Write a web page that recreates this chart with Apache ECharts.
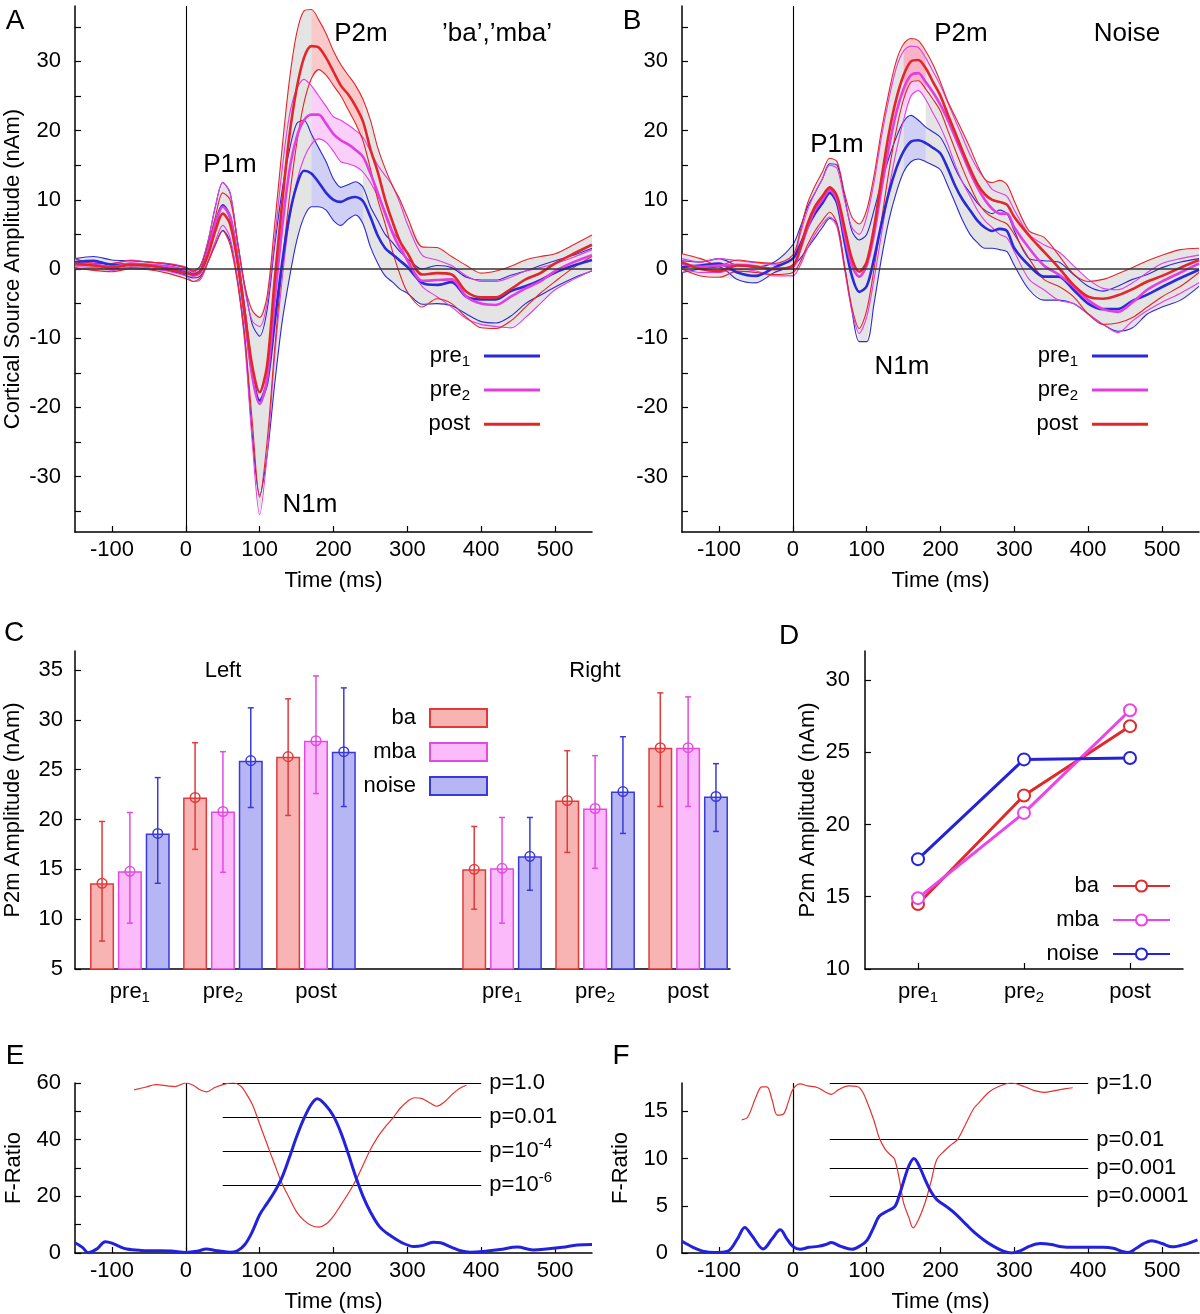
<!DOCTYPE html>
<html><head><meta charset="utf-8">
<script src="https://cdn.jsdelivr.net/npm/echarts@6/dist/echarts.min.js"></script>
<style>html,body{margin:0;padding:0;background:#fff}#c{width:1200px;height:1314px}</style>
</head><body><div id="c"></div>
<script>
// ---------------- DATA ----------------
const T = [-150,-125,-100,-75,-50,-25,0,10,20,30,40,50,60,70,80,90,100,110,120,130,140,150,160,170,180,190,200,210,220,230,240,250,260,270,280,290,300,320,340,360,380,400,420,440,460,480,500,525,550];
const TIME_LABELS = [-100,0,100,200,300,400,500];

// Panel A ('ba','mba')
const A_pre1    = [1.0,1.2,0.6,0.7,0.5,0.3,-0.3, -0.8,-0.2,2.5,6.5,9.2,7.5,1.5,-6.5,-15.0,-19.0, -16.5,-8.0,0.5,7.5,12.0,14.2,13.8,12.5,11.0,10.0, 9.7,10.2,10.4,9.8,7.5,4.8,3.0,2.1,1.2,0.3, -2.0,-2.3,-1.9,-4.0,-4.4,-4.4,-3.2,-2.5,-1.6,-0.5, 0.5,1.3];
const A_pre1_hi = [1.5,1.8,1.3,1.2,1.0,0.7,0.2, -0.3,0.5,4.0,9.0,12.5,11.0,4.0,-2.5,-8.0,-9.7, -6.0,3.0,11.0,17.0,21.0,21.5,19.5,17.5,15.5,13.0, 11.8,12.2,12.6,11.8,9.0,7.0,5.0,3.8,2.5,1.5, 0.0,0.5,0.2,-1.2,-1.6,-1.6,-0.9,-0.3,0.5,1.2, 2.0,3.0];
const A_pre1_lo = [0.5,0.5,0.0,0.2,0.0,-0.2,-0.9, -1.3,-1.0,1.0,3.5,5.6,4.0,-1.5,-10.0,-24.0,-32.7, -27.0,-17.0,-8.0,-1.5,4.0,7.5,9.0,9.0,8.5,7.0, 6.3,7.2,7.8,6.5,3.2,0.8,-1.0,-1.9,-2.9,-3.5, -5.1,-5.0,-5.3,-6.5,-7.6,-7.8,-6.8,-5.0,-3.8,-2.6, -1.3,-0.3];
const A_pre2    = [0.5,0.6,0.3,0.8,0.6,0.4,-0.2, -1.0,-0.5,2.5,6.5,9.0,7.5,1.5,-7.0,-15.5,-19.5, -16.0,-5.0,5.5,14.0,19.0,21.5,22.3,22.3,21.0,19.5, 18.6,18.0,17.2,16.2,13.8,11.0,8.0,5.2,3.0,1.3, -1.7,-1.6,-1.5,-4.0,-5.0,-5.2,-4.0,-2.8,-1.8,-0.3, 1.0,2.0];
const A_pre2_hi = [1.0,1.0,0.8,1.3,1.0,0.8,0.3, -0.5,0.5,4.0,9.0,12.5,11.0,4.0,-3.0,-7.5,-8.3, -5.0,4.0,14.0,22.0,26.0,27.4,26.5,25.0,23.5,22.0, 21.5,20.8,20.0,19.0,17.0,15.0,13.5,12.0,9.5,6.5, 2.0,1.3,0.5,-1.0,-1.8,-1.8,-1.2,-0.3,0.2,0.8, 1.7,2.8];
const A_pre2_lo = [0.0,0.2,-0.2,0.3,0.2,-0.3,-1.0, -1.8,-1.5,1.0,4.0,6.3,4.5,-1.5,-11.0,-25.0,-35.5, -27.0,-13.0,-2.0,7.0,12.5,16.0,18.0,18.8,18.3,17.0, 15.5,15.2,14.8,14.0,12.5,10.5,8.3,5.5,3.9,1.0, -2.5,-4.0,-5.5,-7.2,-8.0,-8.3,-8.5,-7.0,-5.0,-3.0, -1.5,-0.2];
const A_post    = [0.8,0.5,0.2,0.6,0.5,0.0,-0.6, -0.8,-0.3,2.0,5.5,8.0,6.5,1.0,-6.5,-14.0,-17.8, -14.0,-2.0,9.0,19.0,26.0,30.5,32.2,32.0,30.5,28.5, 26.5,25.2,23.5,21.3,17.3,14.0,10.0,6.8,4.0,2.3, -0.8,-0.6,-0.8,-3.3,-4.1,-4.1,-2.9,-1.5,-0.6,0.8, 2.2,3.5];
const A_post_hi = [1.5,0.8,0.8,1.2,1.0,0.8,0.2, -0.3,0.5,3.5,7.5,11.0,10.0,4.0,-2.5,-6.0,-7.0, -4.0,6.0,17.0,27.0,34.0,37.3,37.5,36.0,34.0,31.5, 29.5,28.0,26.5,24.5,21.5,17.5,14.5,12.0,10.0,7.5, 3.2,3.1,1.8,0.5,-0.6,-0.3,0.4,1.3,1.8,2.2, 3.5,4.9];
const A_post_lo = [0.2,-0.2,-0.4,0.0,-0.1,-0.6,-1.4, -1.8,-1.2,1.0,3.5,5.5,3.5,-2.0,-10.0,-22.0,-33.0, -25.0,-12.0,0.0,10.0,18.0,24.0,27.5,28.8,28.0,26.5, 25.0,23.0,21.0,18.5,14.5,10.0,6.5,2.5,-0.8,-3.3, -5.5,-4.3,-5.0,-7.0,-8.5,-8.6,-7.5,-5.5,-3.5,-1.8, 0.2,1.8];
const A_window = [170, 240];

// Panel B (Noise)
const B_pre1    = [0.3,0.5,0.8,-0.5,-1.0,0.2,1.5, 3.5,6.0,8.0,9.5,11.0,9.5,4.0,-1.0,-3.3,-2.5, 1.5,6.5,11.0,14.5,17.0,18.4,18.6,18.2,17.5,16.7, 14.5,12.0,10.0,8.5,7.0,6.0,5.5,5.8,5.5,3.0, 0.5,-1.1,-1.1,-3.0,-5.0,-5.8,-5.8,-4.6,-3.7,-2.6, -1.3,-0.1];
const B_pre1_hi = [1.2,1.0,1.5,0.5,0.3,1.0,3.5, 6.0,9.0,11.0,13.0,15.2,15.0,10.5,5.5,4.2,5.0, 8.5,12.5,16.0,19.0,21.3,22.2,21.5,20.5,19.8,19.0, 17.0,14.5,12.5,11.0,9.5,8.5,8.0,8.5,8.0,5.5, 1.5,1.2,1.0,-0.8,-2.5,-3.2,-2.5,-1.5,-0.8,0.2, 1.0,1.5];
const B_pre1_lo = [-0.5,0.0,0.3,-1.5,-2.0,-0.5,0.5, 1.5,3.0,4.5,6.0,7.3,6.5,0.5,-6.0,-10.5,-10.5, -5.0,1.5,7.0,11.0,14.0,15.5,15.9,15.5,15.0,14.3, 12.0,9.5,7.0,5.0,3.8,3.0,3.0,2.8,2.5,0.5, -3.0,-4.5,-4.5,-5.0,-6.5,-8.0,-9.0,-8.5,-6.5,-5.5, -4.5,-2.5];
const B_pre2    = [0.8,0.3,0.5,0.6,0.4,0.0,0.3, 2.8,6.0,8.5,10.0,11.4,10.0,5.0,0.5,-1.1,0.5, 5.0,11.5,17.5,22.5,26.0,28.0,28.3,27.0,25.5,23.7, 21.5,19.0,16.5,14.0,11.8,10.0,8.7,8.0,8.0,6.0, 3.0,0.5,-0.8,-2.5,-4.5,-5.8,-6.2,-4.8,-3.0,-1.8, -0.5,0.8];
const B_pre2_hi = [1.5,1.0,1.5,1.2,0.9,0.6,1.5, 5.0,8.5,11.0,13.0,15.0,14.5,10.0,6.0,5.0,7.5, 12.5,19.0,24.5,29.0,31.5,32.2,32.0,30.5,28.5,26.5, 24.0,21.5,19.0,16.5,14.5,13.0,11.5,11.0,10.5,8.5, 5.0,3.5,2.5,0.5,-1.5,-2.8,-3.0,-2.0,-0.5,0.8, 1.5,2.0];
const B_pre2_lo = [0.0,-0.5,-0.5,0.0,-0.3,-1.0,-1.0, 0.5,3.0,5.0,6.5,7.5,6.0,0.0,-6.0,-9.3,-7.0, -1.5,5.0,11.5,17.0,21.5,25.0,25.8,24.5,22.5,20.5, 18.0,15.0,12.5,10.5,8.5,7.0,6.0,5.0,4.5,2.5, -1.5,-3.0,-4.5,-5.0,-6.5,-8.0,-9.2,-7.5,-6.0,-4.8, -3.5,-2.0];
const B_post    = [1.0,0.0,-0.3,0.5,0.3,0.0,0.5, 3.0,6.5,9.0,10.5,11.8,10.5,6.0,1.5,-0.4,1.0, 6.0,13.0,19.5,24.5,28.0,30.0,30.2,29.0,27.0,25.0, 22.3,19.7,17.0,14.5,12.3,10.8,10.0,9.7,9.3,7.5, 4.8,2.5,0.2,-2.3,-4.0,-4.3,-3.8,-2.9,-1.8,-1.0, 0.2,1.3];
const B_post_hi = [2.2,1.5,0.5,1.3,1.0,0.8,2.0, 5.5,9.5,12.0,14.0,16.0,15.5,11.0,7.5,6.5,8.5, 13.5,20.0,25.5,30.0,32.5,33.3,33.0,31.5,29.5,27.0, 24.2,22.0,19.8,17.5,15.0,13.0,12.5,12.8,12.2,9.8, 5.5,4.6,2.0,-0.7,-1.8,-1.5,-0.7,0.2,1.2,2.0, 2.8,3.0];
const B_post_lo = [0.0,-1.0,-1.2,-0.3,-0.5,-0.8,-0.5, 1.0,3.5,5.5,7.0,8.2,6.5,0.5,-5.5,-8.6,-6.0, 0.0,7.0,14.0,20.0,24.5,27.0,27.2,26.0,24.5,22.8, 20.0,17.2,14.5,12.0,9.8,8.3,7.5,7.0,6.5,5.0, 1.5,-1.5,-2.5,-4.0,-6.5,-8.0,-7.8,-7.0,-5.5,-4.0, -2.5,-0.5];
const B_window = [150, 180];

// Panel C (bars, Left / Right hemispheres)
const C_cats     = ['pre1','pre2','post','','pre1','pre2','post'];
const C_ba       = [13.6,22.2,26.3,null,15.0,21.9,27.2];
const C_ba_hi    = [19.8,27.7,32.1,null,19.3,26.9,32.7];
const C_ba_lo    = [7.8,17.0,20.4,null,11.0,16.7,21.3];
const C_mba      = [14.8,20.8,27.9,null,15.1,21.1,27.2];
const C_mba_hi   = [20.7,26.8,34.4,null,20.2,26.4,32.3];
const C_mba_lo   = [9.6,14.7,22.6,null,9.6,15.1,21.3];
const C_noise    = [18.6,25.9,26.8,null,16.3,22.8,22.3];
const C_noise_hi = [24.2,31.2,33.2,null,20.2,28.3,25.6];
const C_noise_lo = [13.6,21.2,21.3,null,12.9,18.6,18.8];
const C_yLabels  = [5,10,15,20,25,30,35];

// Panel D
const D_cats  = ['pre1','pre2','post'];
const D_ba    = [14.5,22.0,26.8];
const D_mba   = [14.9,20.8,27.9];
const D_noise = [17.6,24.5,24.6];
const D_yLabels = [10,15,20,25,30];

// Panel E
const E_red_t  = [-70,-55,-40,-25,-15,0,10,20,28,40,55,65,75,80,90,100,110,120,130,140,150,160,170,180,190,200,210,220,230,240,250,260,270,280,290,300,310,320,330,340,350,360,370,380];
const E_red_v  = [57.6,58.5,59.4,59.0,58.7,60.0,59.2,57.5,56.9,58.5,59.8,60.0,58.8,57.0,52.5,45.5,38.5,31.5,24.7,19.5,14.5,11.5,9.7,9.1,10.2,13.0,17.0,21.0,25.5,31.0,36.5,41.0,44.5,47.5,51.0,53.5,54.8,54.5,53.0,51.8,53.3,55.8,58.0,59.2];
const E_blue_t = [-150,-140,-132,-120,-109,-100,-90,-80,-60,-44,-20,0,15,28,40,59,70,80,90,100,110,120,130,140,150,160,170,178,190,200,210,220,230,240,250,262,275,293,309,320,335,345,360,372,385,402,425,449,470,485,510,530,550];
const E_blue_v = [3.6,2.0,0.1,1.5,4.0,3.5,2.3,1.4,0.9,0.8,0.7,0.2,0.6,1.4,0.9,0.3,0.8,3.0,7.5,13.5,17.5,21.5,26.5,33.5,41.0,47.5,52.5,54.4,52.0,48.3,42.5,35.0,27.0,20.0,14.5,9.4,6.5,3.6,2.3,2.6,3.8,3.6,2.0,0.8,0.3,0.5,1.2,2.1,1.1,1.3,2.0,2.8,3.0];
const E_pLevels = [60,48,36,24];
const E_pLabels = ['p=1.0','p=0.01','p=10^-4','p=10^-6'];
const E_pRange  = [50,400];
const E_yLabels = [0,20,40,60];
const E_yTicks  = [0,10,20,30,40,50,60];

// Panel F
const F_red_t  = [-69,-61,-50,-42,-35,-28,-21,-13,-6,0,10,20,34,45,52,62,75,88,95,101,110,117,125,132,138,145,150,157,163,170,179,187,195,205,215,223,235,245,252,265,278,296,314,327,340,355,370,379];
const F_red_v  = [14.1,14.4,16.5,17.6,17.6,16.2,14.6,14.7,16.0,17.3,17.9,17.7,17.5,17.0,16.8,17.3,17.7,17.6,17.0,15.9,14.0,12.2,11.0,10.4,9.9,7.5,5.3,3.8,2.65,3.5,5.3,7.5,9.9,10.8,11.5,12.0,13.8,15.3,15.9,17.0,17.6,18.0,17.6,17.2,17.0,17.2,17.4,17.5];
const F_blue_t = [-150,-135,-122,-105,-88,-75,-65,-55,-40,-28,-17,-8,0,10,22,34,45,52,65,80,92,101,110,117,127,138,145,151,157,164,170,179,187,195,210,221,235,247,260,272,285,296,310,320,335,350,361,380,403,420,434,445,454,465,475,486,500,514,530,548];
const F_blue_v = [1.24,0.6,0.2,0.05,0.2,1.5,2.7,1.8,0.43,1.5,2.45,1.5,0.7,0.4,0.6,0.7,0.9,1.1,0.7,0.4,0.8,1.4,2.8,3.9,4.4,4.9,6.3,7.8,9.2,10.0,9.4,7.8,6.5,5.65,4.8,4.1,3.0,2.1,1.3,0.7,0.2,0.0,0.3,0.7,1.0,0.9,0.7,0.6,0.6,0.6,0.5,0.2,0.05,0.5,1.0,1.3,1.0,0.65,0.9,1.4];
const F_pLevels = [18,12,9,6];
const F_pLabels = ['p=1.0','p=0.01','p=0.001','p=0.0001'];
const F_pRange  = [50,400];
const F_yLabels = [0,5,10,15];

const AB_yLabels = [-30,-20,-10,0,10,20,30];
const AB_yTicks  = [-35,-30,-25,-20,-15,-10,-5,0,5,10,15,20,25,30,35];

// ---------------- STYLE ----------------
const FONT = "'Liberation Sans', Arial, Helvetica, sans-serif";
const RED = '#e3262b', MAG = '#e23ee2', BLUE = '#2a2ad8';
const FS = 22;

function subFmt(s) {
  const m = /^(pre)(\d)$/.exec(s);
  return m ? '{t|' + m[1] + '}{s|' + m[2] + '}' : '{t|' + s + '}';
}
function supFmt(s) {
  const m = /^(.*)\^(.*)$/.exec(s);
  return m ? '{t|' + m[1] + '}{u|' + m[2] + '}' : '{t|' + s + '}';
}
const subRich = {
  t: {fontSize: FS, lineHeight: 26, fontFamily: FONT, color: '#000'},
  s: {fontSize: 15, lineHeight: 12, verticalAlign: 'bottom', fontFamily: FONT, color: '#000'}
};
const supRich = {
  t: {fontSize: FS, lineHeight: 30, fontFamily: FONT, color: '#000'},
  u: {fontSize: 15, lineHeight: 12, verticalAlign: 'top', fontFamily: FONT, color: '#000'}
};

function axisBase(gi, o) {
  return Object.assign({
    gridIndex: gi,
    axisLine: {show: true, onZero: false, lineStyle: {color: '#000', width: 1.5}},
    splitLine: {show: false},
    nameTextStyle: {color: '#000', fontSize: FS, fontFamily: FONT},
    nameLocation: 'middle'
  }, o);
}
function timeAxis(gi, name) {
  return axisBase(gi, {
    type: 'value', min: -150, max: 550, name: name || '', nameGap: 38,
    axisTick: {show: true, inside: true, length: 6, customValues: TIME_LABELS, lineStyle: {color: '#000', width: 1.2}},
    axisLabel: {show: true, customValues: TIME_LABELS, color: '#000', fontSize: FS, fontFamily: FONT, margin: 7}
  });
}
function yValAxis(gi, min, max, labels, ticks, name, gap, margin) {
  return axisBase(gi, {
    type: 'value', min: min, max: max, name: name || '', nameGap: gap || 51, nameRotate: 90,
    axisTick: {show: true, inside: true, length: 6, customValues: ticks, lineStyle: {color: '#000', width: 1.2}},
    axisLabel: {show: true, customValues: labels, color: '#000', fontSize: FS, fontFamily: FONT, margin: margin || 14}
  });
}

function pts(ts, vs) { return ts.map((t, i) => [t, vs[i]]); }
function lineS(gi, name, vs, color, width, z) {
  return {type: 'line', name: name, xAxisIndex: gi, yAxisIndex: gi, data: pts(T, vs), showSymbol: false, symbol: 'none',
    smooth: 0.3, lineStyle: {color: color, width: width}, itemStyle: {color: color}, z: z, silent: true, animation: false};
}

function bandSeries(gi, conds, win, fills) {
  return {
    type: 'custom', xAxisIndex: gi, yAxisIndex: gi, silent: true, z: 1, animation: false,
    data: [[0, 0]],
    markLine: {
      silent: true, symbol: ['none', 'none'], label: {show: false}, animation: false, z: 5,
      data: [
        {yAxis: 0, lineStyle: {color: '#333', width: 1.6, type: 'solid'}},
        {xAxis: 0, lineStyle: {color: '#000', width: 1.1, type: 'solid'}}
      ]
    },
    renderItem: function (params, api) {
      const children = [];
      const idx = T.map((t, i) => i);
      const env = (ids) => {
        const up = ids.map(i => api.coord([T[i], Math.max.apply(null, conds.map(c => c.hi[i]))]));
        const dn = ids.map(i => api.coord([T[i], Math.min.apply(null, conds.map(c => c.lo[i]))])).reverse();
        return up.concat(dn);
      };
      const left = idx.filter(i => T[i] <= win[0]);
      const right = idx.filter(i => T[i] >= win[1]);
      const mid = idx.filter(i => T[i] >= win[0] && T[i] <= win[1]);
      children.push({type: 'polygon', shape: {points: env(left)}, style: {fill: '#e4e4e4'}});
      children.push({type: 'polygon', shape: {points: env(right)}, style: {fill: '#e4e4e4'}});
      conds.forEach((c, k) => {
        const up = mid.map(i => api.coord([T[i], c.hi[i]]));
        const dn = mid.map(i => api.coord([T[i], c.lo[i]])).reverse();
        children.push({type: 'polygon', shape: {points: up.concat(dn)}, style: {fill: fills[k]}});
      });
      return {type: 'group', children: children};
    }
  };
}

function erpPanel(gi, P, win) {
  const conds = [
    {hi: P.pre1_hi, lo: P.pre1_lo, m: P.pre1, c: BLUE, n: 'pre1'},
    {hi: P.pre2_hi, lo: P.pre2_lo, m: P.pre2, c: MAG, n: 'pre2'},
    {hi: P.post_hi, lo: P.post_lo, m: P.post, c: RED, n: 'post'}
  ];
  const fills = ['rgba(150,150,236,0.45)', 'rgba(245,150,245,0.45)', 'rgba(245,150,150,0.5)'];
  const out = [bandSeries(gi, conds, win, fills)];
  conds.forEach(c => {
    out.push(lineS(gi, P.tag + '-' + c.n + '-hi', c.hi, c.c, 1.1, 2));
    out.push(lineS(gi, P.tag + '-' + c.n + '-lo', c.lo, c.c, 1.1, 2));
  });
  conds.forEach(c => out.push(lineS(gi, P.tag + '-' + c.n, c.m, c.c, 2.6, 3)));
  return out;
}

const BAR_W = 24, BAR_GAP = 0.16, BAR_PITCH = BAR_W * (1 + BAR_GAP);
function barS(name, vals, fill, stroke) {
  const data = [];
  C_cats.forEach((c, i) => { if (c) data.push([i, vals[i]]); });
  return {type: 'bar', name: name, xAxisIndex: 2, yAxisIndex: 2, data: data, barWidth: BAR_W, barGap: (BAR_GAP * 100) + '%',
    itemStyle: {color: fill, borderColor: stroke, borderWidth: 1.5}, z: 2, silent: true, animation: false};
}
function errS(k, means, los, his, color) {
  const data = [];
  C_cats.forEach((c, i) => { if (c) data.push([i, means[i], los[i], his[i]]); });
  return {type: 'custom', xAxisIndex: 2, yAxisIndex: 2, z: 6, silent: true, animation: false, data: data,
    encode: {x: 0, y: [1, 2, 3]},
    renderItem: function (params, api) {
      const off = (k - 1) * BAR_PITCH;
      const pm = api.coord([api.value(0), api.value(1)]);
      const pl = api.coord([api.value(0), api.value(2)]);
      const ph = api.coord([api.value(0), api.value(3)]);
      const x = pm[0] + off, cw = 3;
      const st = {stroke: color, lineWidth: 1.5, fill: null};
      return {type: 'group', children: [
        {type: 'line', shape: {x1: x, y1: pl[1], x2: x, y2: ph[1]}, style: st},
        {type: 'line', shape: {x1: x - cw, y1: pl[1], x2: x + cw, y2: pl[1]}, style: st},
        {type: 'line', shape: {x1: x - cw, y1: ph[1], x2: x + cw, y2: ph[1]}, style: st},
        {type: 'circle', shape: {cx: x, cy: pm[1], r: 4.8}, style: st}
      ]};
    }};
}
function dLine(name, vals, color) {
  return {type: 'line', name: name, xAxisIndex: 3, yAxisIndex: 3, data: vals, symbol: 'emptyCircle', symbolSize: 12,
    showSymbol: true, lineStyle: {color: color, width: 3}, itemStyle: {color: color, borderColor: color, borderWidth: 3},
    z: 3, silent: true, animation: false};
}
function fLine(gi, name, ts, vs, color, width, extra) {
  return Object.assign({type: 'line', name: name, xAxisIndex: gi, yAxisIndex: gi, data: pts(ts, vs), showSymbol: false, symbol: 'none',
    smooth: 0.35, lineStyle: {color: color, width: width}, z: 3, silent: true, animation: false}, extra || {});
}
function pMarks(levels, labels, range) {
  const data = levels.map((v, i) => [
    {coord: [range[0], v], name: labels[i]},
    {coord: [range[1], v]}
  ]);
  data.push([{coord: [0, 0], name: ''}, {coord: [0, levels[0]]}]);
  return {
    silent: true, symbol: ['none', 'none'], animation: false, z: 2,
    lineStyle: {color: '#000', width: 1.2, type: 'solid'},
    label: {show: true, position: 'end', distance: 8, formatter: p => p.name ? supFmt(p.name) : '', rich: supRich},
    data: data
  };
}

function legend(names, right, top, gap, iw, ih, extra) {
  return Object.assign({
    show: true, data: names, orient: 'vertical', align: 'right', right: right, top: top, itemGap: gap,
    itemWidth: iw, itemHeight: ih, selectedMode: false, padding: 0,
    formatter: n => subFmt(n.split('-')[1]),
    textStyle: {fontSize: FS, fontFamily: FONT, color: '#000', rich: subRich, padding: [0, 9, 0, 0]}
  }, extra || {});
}

function txt(x, y, text, size) {
  return {type: 'text', x: x, y: y, silent: true, z: 100,
    style: {text: text, fontSize: size, fontFamily: FONT, fill: '#000', align: 'center', verticalAlign: 'middle'}};
}

const PA = {tag: 'A', pre1: A_pre1, pre1_hi: A_pre1_hi, pre1_lo: A_pre1_lo, pre2: A_pre2, pre2_hi: A_pre2_hi, pre2_lo: A_pre2_lo, post: A_post, post_hi: A_post_hi, post_lo: A_post_lo};
const PB = {tag: 'B', pre1: B_pre1, pre1_hi: B_pre1_hi, pre1_lo: B_pre1_lo, pre2: B_pre2, pre2_hi: B_pre2_hi, pre2_lo: B_pre2_lo, post: B_post, post_hi: B_post_hi, post_lo: B_post_lo};

const C_xVals = C_cats.map((c, i) => c ? i : null).filter(v => v !== null);

const option = {
  backgroundColor: '#fff',
  animation: false,
  textStyle: {fontFamily: FONT},
  grid: [
    {left: 75, top: 6, width: 517, height: 526, outerBoundsMode: 'none'},
    {left: 682, top: 6, width: 517, height: 526, outerBoundsMode: 'none'},
    {left: 75, top: 651, width: 655, height: 318, outerBoundsMode: 'none'},
    {left: 865, top: 651, width: 318, height: 318, outerBoundsMode: 'none'},
    {left: 75, top: 1083, width: 517, height: 170, outerBoundsMode: 'none'},
    {left: 682, top: 1083, width: 517, height: 170, outerBoundsMode: 'none'}
  ],
  xAxis: [
    timeAxis(0, 'Time (ms)'),
    timeAxis(1, 'Time (ms)'),
    axisBase(2, {type: 'value', min: -0.59, max: 6.45,
      axisTick: {show: false},
      axisLabel: {show: true, customValues: C_xVals, formatter: v => subFmt(C_cats[Math.round(v)]), rich: subRich, margin: 10}}),
    axisBase(3, {type: 'category', data: D_cats, boundaryGap: true,
      axisTick: {show: true, inside: true, alignWithLabel: true, length: 6, lineStyle: {color: '#000', width: 1.2}},
      axisLabel: {show: true, formatter: v => subFmt(v), rich: subRich, margin: 10}}),
    timeAxis(4, 'Time (ms)'),
    timeAxis(5, 'Time (ms)')
  ],
  yAxis: [
    yValAxis(0, -38, 38, AB_yLabels, AB_yTicks, 'Cortical Source Amplitude (nAm)', 51),
    yValAxis(1, -38, 38, AB_yLabels, AB_yTicks, '', 51),
    yValAxis(2, 5, 36.9, C_yLabels, C_yLabels, 'P2m Amplitude (nAm)', 51, 12),
    yValAxis(3, 10, 32, D_yLabels, D_yLabels, 'P2m Amplitude (nAm)', 46, 15),
    yValAxis(4, 0, 60, E_yLabels, E_yTicks, 'F-Ratio', 50),
    yValAxis(5, 0, 18, F_yLabels, F_yLabels, 'F-Ratio', 50)
  ],
  legend: [
    legend(['A-pre1', 'A-pre2', 'A-post'], 660, 345, 10.1, 56, 3, {icon: 'rect'}),
    legend(['B-pre1', 'B-pre2', 'B-post'], 52, 345, 10.1, 56, 3, {icon: 'rect'}),
    legend(['C-ba', 'C-mba', 'C-noise'], 712, 707, 12, 57, 18, {icon: 'rect'}),
    legend(['D-ba', 'D-mba', 'D-noise'], 29, 875, 12, 57, 14)
  ],
  series: [].concat(
    erpPanel(0, PA, A_window),
    erpPanel(1, PB, B_window),
    [
      barS('C-ba', C_ba, '#f7b4b2', '#e23a3a'),
      barS('C-mba', C_mba, '#fbbaf9', '#e24ae2'),
      barS('C-noise', C_noise, '#b5b6f3', '#3a3ad8'),
      errS(0, C_ba, C_ba_lo, C_ba_hi, '#e23a3a'),
      errS(1, C_mba, C_mba_lo, C_mba_hi, '#e24ae2'),
      errS(2, C_noise, C_noise_lo, C_noise_hi, '#3a3ad8'),
      dLine('D-ba', D_ba, '#e02a2a'),
      dLine('D-mba', D_mba, '#ea44ea'),
      dLine('D-noise', D_noise, '#2323d8'),
      fLine(4, 'E-p', E_red_t, E_red_v, '#e3322f', 1.2, {markLine: pMarks(E_pLevels, E_pLabels, E_pRange)}),
      fLine(4, 'E-F', E_blue_t, E_blue_v, '#2222dd', 3),
      fLine(5, 'F-p', F_red_t, F_red_v, '#e3322f', 1.2, {markLine: pMarks(F_pLevels, F_pLabels, F_pRange)}),
      fLine(5, 'F-F', F_blue_t, F_blue_v, '#2222dd', 3)
    ]
  ),
  graphic: [
    txt(15, 21, 'A', 28), txt(632, 21, 'B', 28), txt(14, 633, 'C', 28),
    txt(789, 636, 'D', 28), txt(15, 1056, 'E', 28), txt(621, 1056, 'F', 28),
    txt(361, 34, 'P2m', 26), txt(497, 34, '\u2019ba\u2019,\u2019mba\u2019', 26),
    txt(230, 165, 'P1m', 26), txt(310, 505, 'N1m', 26),
    txt(961, 34, 'P2m', 26), txt(1127, 34, 'Noise', 26),
    txt(837, 145, 'P1m', 26), txt(902, 367, 'N1m', 26),
    txt(223, 671, 'Left', 22), txt(595, 671, 'Right', 22)
  ]
};

const chart = echarts.init(document.getElementById('c'), null, {renderer: 'canvas', width: 1200, height: 1314});
chart.setOption(option);
</script>
</body></html>
